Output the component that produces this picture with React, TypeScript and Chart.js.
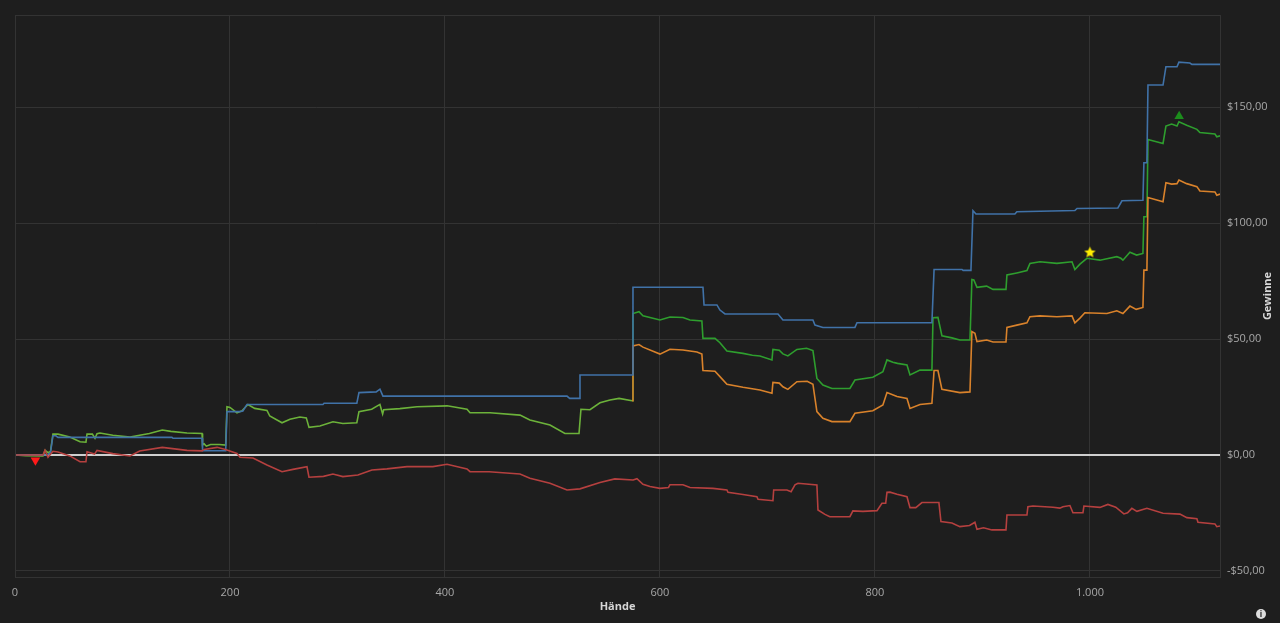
import React, { useEffect, useRef } from "react";
import { Chart, registerables } from "chart.js";

Chart.register(...registerables);

// ---- data (hands on x, winnings in $ on y) ----
const blueHands = [0,30,33,35.3,38,40,146,147,174,174.5,196,197.2,209,212,215.8,286.5,287.5,318,320,336,339.5,342.3,513.5,516,524.7,525.6,574,574.9,640,641,653,655.8,660.5,709.8,714.4,742.3,744.2,751.6,781.4,783.3,853,855,881,882,889.3,891.2,894,930.2,932,986,988,1026,1029.8,1049.3,1050.2,1053,1054,1068,1070.7,1081,1082.8,1093,1094.9,1121];
const blueValues = [0,0,1,8.3,8.3,7.6,7.6,7.2,7.2,1.8,1.8,18.7,18.7,19,21.8,21.8,22.3,22.3,26.9,27.2,28.4,25.4,25.4,24.4,24.4,34.5,34.5,72.3,72.3,64.7,64.7,62.5,60.8,60.8,58.2,58.2,56,55,55,57,57,80,80,79.6,79.6,105.3,103.9,103.9,104.9,105.4,106.3,106.5,109.6,109.8,126,126,159.5,159.5,167.4,167.4,169.4,169,168.4,168.4];

// green and orange run together until hand 574
const sharedHands = [0,10,26,28,30.7,33,35.3,40,51,60.5,66,67,72,74.4,76.3,79,91,107,116,125,137,145,160,174,174.5,176,178,182,190,196,197.2,200,206.5,211,216.7,223,234.4,237,248.4,255.8,265,271,273.5,283.7,295.8,305,318,320,331.8,339.5,342,343,358,374,402,420.5,423.3,441.9,469.8,479,497.7,511.6,524.7,526.5,534.9,544.2,553.5,562,574];
const sharedValues = [0,-0.3,-0.4,2,1,1.5,9,9,7.8,5.7,5.5,9,9,7.2,9.2,9.5,8.5,7.7,8.5,9.3,10.8,10.2,9.5,9.3,4.3,4.8,3.8,4.5,4.5,4.3,20.8,20.5,18.2,19,21.8,20.1,19.2,16.8,13.9,15.4,16.4,16,11.9,12.5,14.3,13.6,13.9,18.7,19.7,21.8,17.7,19.5,20,20.8,21.2,19.7,18.2,18.2,17.2,15.1,12.9,9.3,9.3,19.7,19.5,22.5,23.7,24.4,23.4];

const greenHandsTail = [574.9,580.5,584.2,600,609.3,621.4,627.9,639,640,651.2,655.8,662.3,677.2,686,693,704.2,705.1,711,714.4,719,727.4,736.4,742.3,746,751.6,760,776.7,781.4,798,807.4,811.2,816.7,821,829.8,832.6,841.9,853,854,858.6,862.3,871.6,879,888.4,890.2,892,894.9,903.9,909.8,921.9,922.8,932,941.4,944.2,953.5,969.3,983.3,986,990.7,997.2,1009.3,1015.8,1025,1028.8,1030.7,1037.2,1043.4,1049.3,1050.2,1053,1054,1068,1070.7,1076,1081,1082.8,1090,1099.5,1102.3,1116.3,1118,1121];
const greenValuesTail = [61,61.8,60,58.2,59.5,59.3,58.2,57.8,50.3,50.3,48.4,44.8,43.8,43,42.7,41,45.5,45.2,43.6,42.7,45.5,46,45,33,30.2,28.7,28.7,32.3,33.5,35.9,41,40,39.5,38.8,34.5,36.6,36.6,59.2,59.3,51.4,50.5,49.6,49.6,75.7,75.5,72.3,72.8,71.4,71.4,77.6,78.5,79.5,82.6,83.3,82.6,83.3,80,82.3,84.8,84,84.6,85.5,84.8,84,87.4,86.2,86.9,102.7,102.7,136,134.3,141.8,142.7,141.8,143.7,142.2,140.4,139,138.4,137.2,137.6];

const orangeHandsTail = [574.9,580.5,584.2,600,609.3,621.4,634.4,639,640,651.2,655.8,662.3,677.2,693,704.2,705.1,711,714.4,719,727.4,737,742.3,746,751.6,760,776.7,781.4,798,807.4,811.2,820.5,829.8,832.6,841.9,853,855,858.6,862.3,879,888.4,890.2,893,894.9,904,909.8,921.9,922.8,932,941.4,944.2,953.5,969.3,983.3,986,990.7,995.3,1015.8,1025,1030.7,1037.2,1043,1049.3,1050.2,1053,1054,1068,1070.7,1076,1081,1082.8,1090,1099.5,1102.3,1116.3,1118,1121];
const orangeValuesTail = [47,47.6,46.5,43.5,45.6,45.3,44.4,43.5,36.4,36.1,33.8,30.5,29.2,28,26.6,31.3,31,29.4,28.3,31.6,31.8,30.5,18.7,15.8,14.4,14.4,18,19.1,21.6,26.9,25.2,24.4,20.1,21.8,22.3,36.4,36.4,28.3,26.9,27.2,53.2,52.5,48.9,49.6,48.7,48.7,55,56,57,59.6,60,59.6,60,57,59,61.3,61,62.2,61,64.2,62.8,63.6,79.7,79.7,111,109.2,117.4,116.8,117,118.5,117,115.7,113.8,113.4,112,112.5];

const redHands = [0,26,27.9,30.7,35.3,40,51,60.5,66,67,74,76.3,91,107,116,137,160,174,176,188,195,206.5,209.3,221.4,234.4,248.4,258.6,271.6,273.5,287,295.8,305,319,332,346,364.7,388.8,401.9,420.5,423.3,441,469.8,479,497.7,513.5,525.6,544.2,558,575,578.6,584.2,590.7,600,608,609.3,621.4,627.9,649.3,662.3,663.3,677.2,690.2,691.2,705.1,705.8,718.1,722,725.6,728.4,746,747,753.5,758,776.7,779.5,788.8,801.9,806.5,810,811.2,814,820.5,829.8,832.6,838,843.7,859.5,861.4,871.6,879,888,893,894.9,901,908.8,921.9,922.8,941.4,942.3,947,965.6,972,974.9,981.4,984.2,993.5,994.4,1009.3,1016.7,1024,1031.6,1035,1039,1043.7,1053,1068,1083.7,1090.2,1099.5,1100.5,1116.3,1118,1121];
const redValues = [0,0,2,-1,1.6,1.3,-0.4,-2.9,-2.9,1.4,0.4,2,0.6,-0.4,1.7,3.3,2,1.8,2.4,3.3,2.5,0.7,-1,-1.3,-4.3,-7.2,-6.2,-5,-9.6,-9.2,-8.2,-9.3,-8.6,-6.5,-6,-5,-5,-4,-6,-7.2,-7.2,-8.2,-10,-12.2,-15.1,-14.6,-11.9,-10.3,-10.8,-10.2,-12.6,-13.6,-14.4,-14,-12.8,-12.8,-14,-14.4,-15.1,-16.1,-17,-18,-19.1,-19.7,-15.1,-15.1,-15.8,-12.9,-12.2,-12.9,-23.7,-25.6,-26.6,-26.6,-24.1,-24.3,-24,-20.8,-20.8,-16.1,-16,-16.9,-18,-22.7,-22.7,-20.5,-20.5,-28.7,-29.3,-30.9,-30.4,-29,-32,-31.4,-32.3,-32.3,-25.9,-25.9,-22.3,-22,-22.5,-22.9,-22.3,-21.8,-24.9,-24.9,-22,-22.6,-21.3,-22.5,-25.4,-24.9,-23,-24.3,-23,-25.1,-25.5,-27,-27.5,-29,-29.7,-30.9,-30.6];

const markerHands = [19, 1083, 1000];
const markerValues = [-2.3, 146, 87.5];

const xTicks = [0, 200, 400, 600, 800, 1000];
const yTicks = [-50, 0, 50, 100, 150];
const X_MAX = 1121;
const Y_MIN = -52.6;
const Y_MAX = 189.7;

const BG = "#1e1e1e";
const GRID = "#333333";
const BLUE = "#4072a8";
const GREEN = "#2e9e2e";
const LIME = "#6cb23a";
const ORANGE = "#d9822b";
const RED = "#b5403f";
const FONT = "'Open Sans', 'Noto Sans', sans-serif";

function zip(xs: number[], ys: number[]) {
  const n = Math.min(xs.length, ys.length);
  const out: { x: number; y: number }[] = [];
  for (let i = 0; i < n; i++) out.push({ x: xs[i], y: ys[i] });
  return out;
}

function fmtMoney(v: number) {
  return (v < 0 ? "-" : "") + "$" + Math.abs(v).toFixed(2).replace(".", ",");
}
function fmtInt(v: number) {
  return String(v).replace(/\B(?=(\d{3})+(?!\d))/g, ".");
}

function makeStar(size: number, color: string) {
  const c = document.createElement("canvas");
  c.width = size;
  c.height = size;
  const g = c.getContext("2d")!;
  const cx = size / 2, cy = size / 2 + 0.5;
  const ro = size / 2 - 0.5, ri = ro * 0.45;
  g.beginPath();
  for (let i = 0; i < 10; i++) {
    const r = i % 2 === 0 ? ro : ri;
    const a = -Math.PI / 2 + (i * Math.PI) / 5;
    const px = cx + r * Math.cos(a), py = cy + r * Math.sin(a);
    if (i === 0) g.moveTo(px, py); else g.lineTo(px, py);
  }
  g.closePath();
  g.fillStyle = color;
  g.fill();
  return c;
}

const frame = {
  id: "frameAndTitles",
  afterDraw(chart: any) {
    const { ctx, chartArea: a } = chart;
    ctx.save();
    ctx.strokeStyle = GRID;
    ctx.lineWidth = 1;
    ctx.strokeRect(a.left + 0.5, a.top + 0.5, a.right - a.left, a.bottom - a.top);
    ctx.fillStyle = "#d6d6d6";
    ctx.font = `bold 11px ${FONT}`;
    ctx.textAlign = "center";
    ctx.textBaseline = "middle";
    ctx.fillText("Hände", (a.left + a.right) / 2, 607);
    ctx.translate(1268, (a.top + a.bottom) / 2);
    ctx.rotate(-Math.PI / 2);
    ctx.fillText("Gewinne", 0, 0);
    ctx.restore();
    // info icon
    ctx.save();
    ctx.beginPath();
    ctx.arc(1261, 614, 5, 0, Math.PI * 2);
    ctx.fillStyle = "#dddddd";
    ctx.fill();
    ctx.fillStyle = BG;
    ctx.font = `bold 8px ${FONT}`;
    ctx.textAlign = "center";
    ctx.textBaseline = "middle";
    ctx.fillText("i", 1261, 614.5);
    ctx.restore();
  },
};

const lineBase = { borderWidth: 1.6, pointRadius: 0, fill: false };

export default function App() {
  const ref = useRef<HTMLCanvasElement>(null);
  useEffect(() => {
    document.body.style.margin = "0";
    document.body.style.background = BG;
    const star = makeStar(13, "#ffee00");
    const lastShared = sharedHands.length - 1;
    const chart = new Chart(ref.current!, {
      type: "line",
      data: {
        datasets: [
          { ...lineBase, data: zip(redHands, redValues), borderColor: RED },
          { ...lineBase, data: zip(blueHands, blueValues), borderColor: BLUE },
          {
            ...lineBase,
            data: zip(
              sharedHands.slice(lastShared).concat(orangeHandsTail),
              sharedValues.slice(lastShared).concat(orangeValuesTail)
            ),
            borderColor: ORANGE,
          },
          {
            ...lineBase,
            data: zip(
              sharedHands.slice(lastShared).concat(greenHandsTail),
              sharedValues.slice(lastShared).concat(greenValuesTail)
            ),
            borderColor: GREEN,
          },
          // green and orange overlapping (drawn together) before they split
          { ...lineBase, data: zip(sharedHands, sharedValues), borderColor: LIME },
          {
            type: "scatter",
            data: [{ x: markerHands[0], y: markerValues[0] }],
            pointStyle: "triangle",
            rotation: 180,
            pointRadius: 5.5,
            backgroundColor: "#ff1a1a",
            borderColor: "#ff1a1a",
            borderWidth: 0,
            showLine: false,
          } as any,
          {
            type: "scatter",
            data: [{ x: markerHands[1], y: markerValues[1] }],
            pointStyle: "triangle",
            pointRadius: 5.5,
            backgroundColor: "#1c8c1c",
            borderColor: "#1c8c1c",
            borderWidth: 0,
            showLine: false,
          } as any,
          {
            type: "scatter",
            data: [{ x: markerHands[2], y: markerValues[2] }],
            pointStyle: star,
            pointRadius: 6,
            showLine: false,
          } as any,
        ],
      },
      options: {
        animation: false,
        responsive: true,
        maintainAspectRatio: false,
        layout: { padding: { left: 15, top: 15, right: 0, bottom: 0 } },
        plugins: { legend: { display: false }, tooltip: { enabled: false } },
        elements: { line: { tension: 0 } },
        scales: {
          x: {
            type: "linear",
            position: "bottom",
            min: 0,
            max: X_MAX,
            afterBuildTicks: (s: any) => {
              s.ticks = xTicks.map((v) => ({ value: v }));
            },
            afterFit: (s: any) => {
              s.height = 46;
            },
            grid: { color: GRID, drawTicks: false },
            border: { display: true, color: GRID },
            ticks: {
              padding: 9,
              color: "#a8a8a8",
              font: { family: FONT, size: 11 },
              callback: (v: any) => fmtInt(Number(v)),
            },
          },
          y: {
            type: "linear",
            position: "right",
            min: Y_MIN,
            max: Y_MAX,
            afterBuildTicks: (s: any) => {
              s.ticks = yTicks.map((v) => ({ value: v }));
            },
            afterFit: (s: any) => {
              s.width = 60;
            },
            grid: {
              drawTicks: false,
              color: (c: any) => (c.tick && c.tick.value === 0 ? "#cfcfcf" : GRID),
              lineWidth: (c: any) => (c.tick && c.tick.value === 0 ? 2 : 1),
            },
            border: { display: true, color: GRID },
            ticks: {
              padding: 7,
              color: "#a8a8a8",
              font: { family: FONT, size: 11 },
              callback: (v: any) => fmtMoney(Number(v)),
            },
          },
        },
      },
      plugins: [frame],
    });
    return () => chart.destroy();
  }, []);
  return (
    <div style={{ position: "relative", width: 1280, height: 623, background: BG }}>
      <canvas ref={ref} />
    </div>
  );
}
